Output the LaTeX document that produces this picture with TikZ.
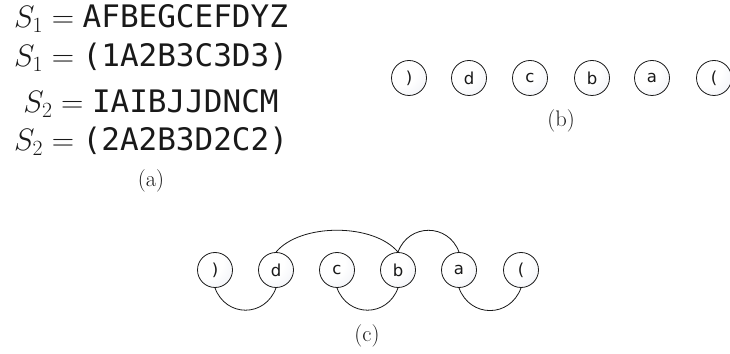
\RequirePackage{fix-cm}
\documentclass[tikz,border=0pt]{standalone}
\usepackage{fontspec}
\newfontfamily\monof{DejaVu Sans Mono}
\newfontfamily\nodef{DejaVu Sans}
\definecolor{ballc}{RGB}{226,229,239}
\definecolor{inkc}{RGB}{25,25,25}
\pgfdeclareradialshading{tokshade}{\pgfpoint{-14bp}{14bp}}{color(0bp)=(white); color(22bp)=(white); color(62bp)=(ballc); color(100bp)=(ballc)}
\begin{document}
\begin{tikzpicture}[x=1pt,y=1pt,
  tok/.style={circle, draw=inkc, line width=0.8pt, minimum size=35pt, inner sep=0pt,
    shade, shading=tokshade, text=inkc,
    font=\nodef\fontsize{16.5}{16.5}\selectfont},
  eqline/.style={anchor=base, text=inkc, font=\fontsize{31}{36}\selectfont},
  lbl/.style={anchor=base, text=inkc, font=\fontsize{22.5}{26}\selectfont},
  link/.style={line width=0.8pt, draw=inkc}]
\useasboundingbox (0,0) rectangle (730,353);
% (a)
\node[eqline] (l1) at (151,325) {$S_1=\mbox{\monof AFBEGCEFDYZ}$};
\node[eqline] (l2) at (151,286) {$S_1=\mbox{\monof (1A2B3C3D3)}$};
\node[eqline] (l3) at (151,240) {$S_2=\mbox{\monof IAIBJJDNCM}$};
\node[eqline] (l4) at (151,202) {$S_2=\mbox{\monof (2A2B3D2C2)}$};
\node[lbl] (ca) at (151,166) {(a)};
% (b)
\node[tok] (b1) at (409,275) {)};
\node[tok] (b2) at (469,275) {d};
\node[tok] (b3) at (530,275) {c};
\node[tok] (b4) at (592,275) {b};
\node[tok] (b5) at (652,275) {a};
\node[tok] (b6) at (714,275) {(};
\node[lbl] (cb) at (561,226) {(b)};
% (c)
\node[tok] (c1) at (215,83) {)};
\node[tok] (c2) at (276,83) {d};
\node[tok] (c3) at (337,83) {c};
\node[tok] (c4) at (398,83) {b};
\node[tok] (c5) at (459,83) {a};
\node[tok] (c6) at (521,83) {(};
\node[lbl] (cc) at (367,11) {(c)};
\draw[link] (c2.north) to[out=50,in=130,looseness=0.8] (c4.north);
\draw[link] (c4.north) to[out=70,in=110,looseness=1.3] (c5.north);
\draw[link] (c1.south) to[out=-70,in=-110,looseness=1.33] (c2.south);
\draw[link] (c3.south) to[out=-70,in=-110,looseness=1.33] (c4.south);
\draw[link] (c5.south) to[out=-70,in=-110,looseness=1.33] (c6.south);
\end{tikzpicture}
\end{document}
